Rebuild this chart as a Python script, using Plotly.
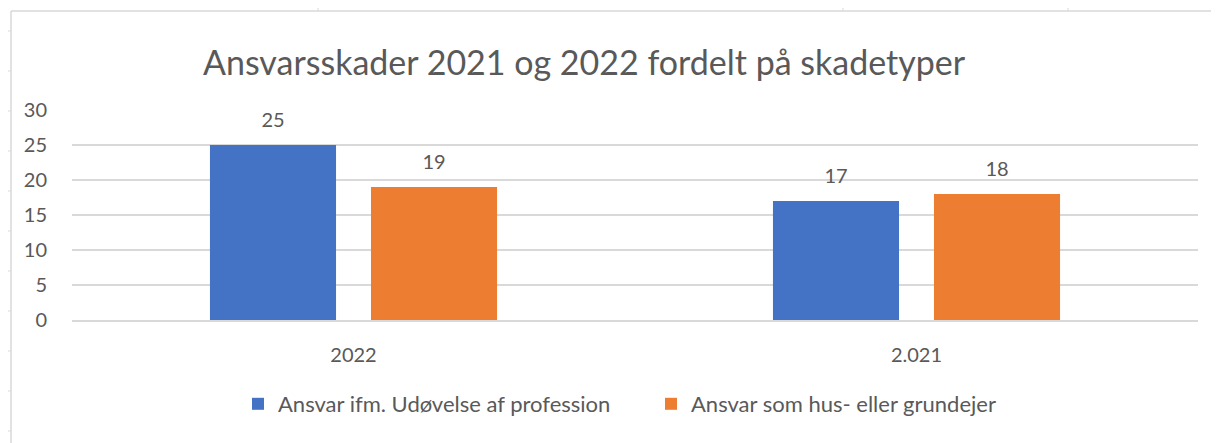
import plotly.graph_objects as go

categories = ["2022", "2.021"]
series_names = ["Ansvar ifm. Udøvelse af profession", "Ansvar som hus- eller grundejer"]
profession = [25, 17]
husejer = [19, 18]
y_ticks = [0, 5, 10, 15, 20, 25, 30]
title_text = "Ansvarsskader 2021 og 2022 fordelt på skadetyper"

colors = ["#4472C4", "#ED7D31"]
FONT = "Lato"
GREY = "#595959"
FRAME = "#D9D9D9"

fig = go.Figure()
for name, vals, col in zip(series_names, [profession, husejer], colors):
    fig.add_trace(go.Bar(
        x=categories, y=vals, name=name, marker=dict(color=col, line=dict(width=0)),
        texttemplate="<span style='font-size:20px'>%{y}</span><br> ", textposition="outside",
        textfont=dict(family=FONT, size=10, color=GREY), cliponaxis=False,
    ))

# plot area on screen: x 72..1198, y 110..320 (page has an 8px body margin)
def px(x):
    return (x - 72) / 1126

def py(y):
    return (320 - y) / 210

shapes = [
    dict(type="line", xref="paper", yref="paper", x0=px(11), x1=px(1219),
         y0=py(11), y1=py(11), line=dict(color=FRAME, width=1.5)),
    dict(type="line", xref="paper", yref="paper", x0=px(11), x1=px(11),
         y0=py(11), y1=py(443), line=dict(color=FRAME, width=1.5)),
]
for yy in range(31, 443, 40):
    shapes.append(dict(type="line", xref="paper", yref="paper", x0=px(4), x1=px(11),
                       y0=py(yy), y1=py(yy), line=dict(color=FRAME, width=1)))
for xx in [318, 843, 1068]:
    shapes.append(dict(type="line", xref="paper", yref="paper", x0=px(xx), x1=px(xx),
                       y0=py(4), y1=py(11), line=dict(color=FRAME, width=1)))

fig.update_layout(
    width=1211, height=435,
    margin=dict(l=64, r=21, t=102, b=123),
    paper_bgcolor="white", plot_bgcolor="white",
    barmode="group", bargap=0.428, bargroupgap=0.217,
    title=dict(text=title_text, x=0.4757, xanchor="center", y=0.874, yanchor="middle",
               font=dict(family=FONT, size=34, color=GREY)),
    font=dict(family=FONT, size=20, color=GREY),
    xaxis=dict(showgrid=False, showline=True, linecolor=FRAME, linewidth=1.5,
               ticks="", ticklabelstandoff=16, tickfont=dict(size=20, color=GREY)),
    yaxis=dict(range=[0, 30], tickvals=y_ticks, showgrid=True, gridcolor=FRAME,
               gridwidth=1.5, zeroline=False, showline=False, ticks="",
               ticklabelstandoff=24, tickfont=dict(size=20, color=GREY)),
    legend=dict(orientation="h", x=px(238), xanchor="left", y=-0.4, yanchor="middle",
                font=dict(size=22, color=GREY), itemwidth=30, entrywidth=368,
                traceorder="normal"),
    shapes=shapes,
)

fig.write_html("out.html")
